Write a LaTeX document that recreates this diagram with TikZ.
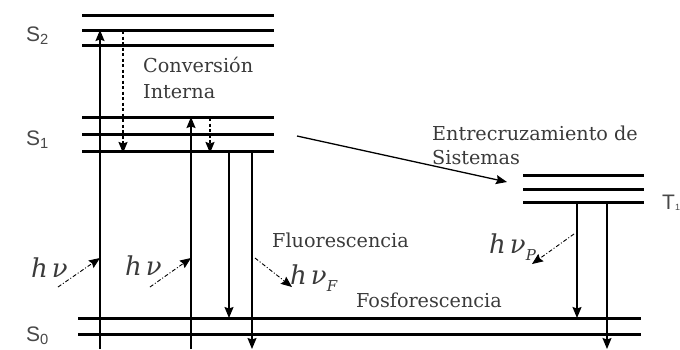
\documentclass[tikz,border=0pt]{standalone}
\usepackage{fontspec}
\setmainfont{DejaVu Serif}
\newfontfamily\lblfont{Liberation Sans}
\usetikzlibrary{arrows.meta}
\definecolor{txt}{HTML}{3A3A3A}
\definecolor{lbl}{HTML}{484848}
\begin{document}
\begin{tikzpicture}[x=1pt,y=-1pt,
  level/.style={line width=3pt},
  trans/.style={line width=1.4pt,-{Stealth[length=11pt,width=9pt,inset=1.5pt]}},
  nonrad/.style={line width=1.6pt,dash pattern=on 3pt off 2.5pt,-{Stealth[length=11pt,width=9pt,inset=1.5pt]}},
  photon/.style={line width=0.9pt,dash pattern=on 4pt off 2pt on 1pt off 2pt,-{Stealth[length=11pt,width=9pt,inset=1.5pt]}},
  txtnode/.style={anchor=base west,inner sep=0pt,text=txt,font=\fontsize{19.2}{22}\selectfont},
  statelbl/.style={anchor=base west,inner sep=0pt,text=lbl,font=\lblfont\fontsize{21}{22}\selectfont},
  hnu/.style={anchor=base west,inner sep=0pt,text=txt,font=\fontsize{26}{28}\selectfont\itshape}]
\useasboundingbox (0,0) rectangle (680,349);
% levels
\foreach \y [count=\i] in {15,30.5,45.5}{\coordinate (s2l\i) at (82,\y); \coordinate (s2r\i) at (274,\y); \draw[level] (s2l\i) -- (s2r\i);}
\foreach \y [count=\i] in {117.5,134.5,151.5}{\coordinate (s1l\i) at (82,\y); \coordinate (s1r\i) at (274,\y); \draw[level] (s1l\i) -- (s1r\i);}
\foreach \y [count=\i] in {175,189,202.5}{\coordinate (t1l\i) at (523,\y); \coordinate (t1r\i) at (644,\y); \draw[level] (t1l\i) -- (t1r\i);}
\foreach \y [count=\i] in {318,334}{\coordinate (s0l\i) at (78,\y); \coordinate (s0r\i) at (641,\y); \draw[level] (s0l\i) -- (s0r\i);}
% transition endpoints
\coordinate (ex1a) at (100,349); \coordinate (ex1b) at (100,30);
\coordinate (ic1a) at (123,31); \coordinate (ic1b) at (123,153);
\coordinate (ex2a) at (191,349); \coordinate (ex2b) at (191,117);
\coordinate (ic2a) at (210,118); \coordinate (ic2b) at (210,153);
\coordinate (fl1a) at (229,153); \coordinate (fl1b) at (229,318);
\coordinate (fl2a) at (252,153); \coordinate (fl2b) at (252,349);
\coordinate (ph1a) at (577,203); \coordinate (ph1b) at (577,318);
\coordinate (ph2a) at (607,203); \coordinate (ph2b) at (607,349);
\coordinate (isca) at (297,136); \coordinate (iscb) at (507,182);
\coordinate (pa1) at (58,287); \coordinate (pb1) at (100,258);
\coordinate (pa2) at (150,287); \coordinate (pb2) at (191,258);
\coordinate (pa3) at (255,258); \coordinate (pb3) at (292,287);
\coordinate (pa4) at (574,234); \coordinate (pb4) at (532,264);
\draw[trans] (ex1a) -- (ex1b);
\draw[trans] (ex2a) -- (ex2b);
\draw[nonrad] (ic1a) -- (ic1b);
\draw[nonrad] (ic2a) -- (ic2b);
\draw[trans] (fl1a) -- (fl1b);
\draw[trans] (fl2a) -- (fl2b);
\draw[trans] (ph1a) -- (ph1b);
\draw[trans] (ph2a) -- (ph2b);
\draw[trans,line width=1.3pt] (isca) -- (iscb);
\draw[photon] (pa1) -- (pb1);
\draw[photon] (pa2) -- (pb2);
\draw[photon] (pa3) -- (pb3);
\draw[photon] (pa4) -- (pb4);
% labels
\node[statelbl] (S2) at (26,41) {S\textsubscript{2}};
\node[statelbl] (S1) at (26,145) {S\textsubscript{1}};
\node[statelbl] (S0) at (26,341) {S\textsubscript{0}};
\node[statelbl] (T1) at (662,209) {T\raisebox{-1pt}{\fontsize{9}{9}\selectfont 1}};
\node[txtnode] (ci1) at (143,72) {Conversión};
\node[txtnode] (ci2) at (143,98) {Interna};
\node[txtnode] (isc1) at (432,140) {Entrecruzamiento de};
\node[txtnode] (isc2) at (432,164) {Sistemas};
\node[txtnode] (fluo) at (272,247) {Fluorescencia};
\node[txtnode] (fosf) at (356,307) {Fosforescencia};
\node[hnu] (hv1) at (31,277) {h\hspace{4pt}ν};
\node[hnu] (hv2) at (125,275) {h\hspace{4pt}ν};
\node[hnu] (hvF) at (290,284) {h\hspace{4pt}ν\raisebox{-7pt}{\fontsize{15}{15}\selectfont F}};
\node[hnu] (hvP) at (489,253) {h\hspace{4pt}ν\raisebox{-7pt}{\fontsize{15}{15}\selectfont P}};
\end{tikzpicture}
\end{document}
